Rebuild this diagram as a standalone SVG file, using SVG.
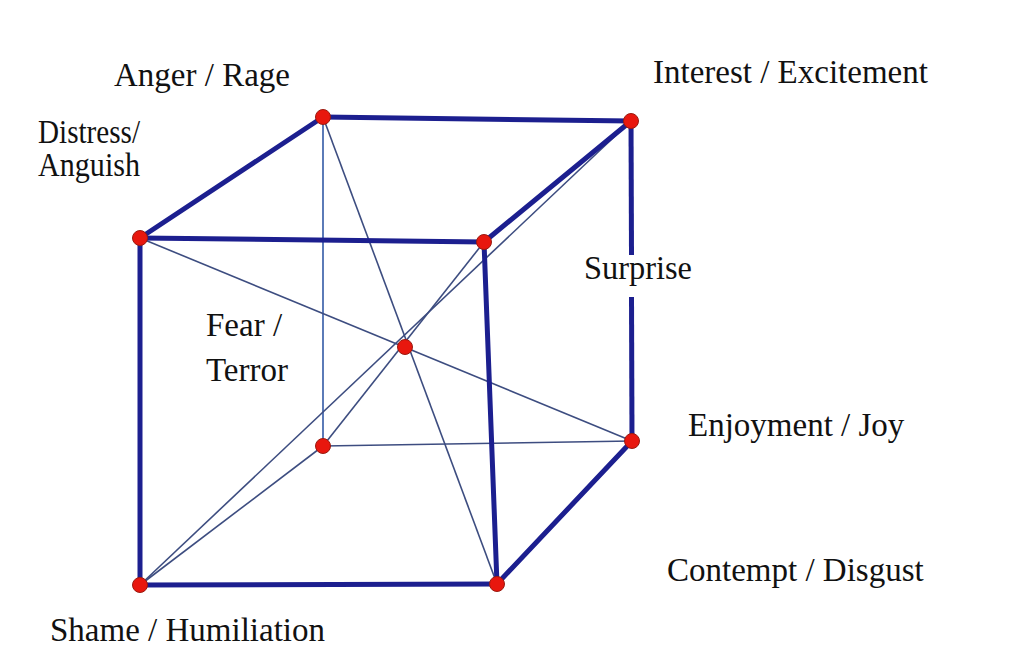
<svg xmlns="http://www.w3.org/2000/svg" width="1024" height="660" viewBox="0 0 1024 660">
<style>
.thick{stroke:#1c1f8f;stroke-width:5;stroke-linecap:round;fill:none}
.thin{stroke:#3d4d80;stroke-width:1.6;fill:none}
.light{stroke:#4a6cb0;stroke-width:1.8;fill:none}
.v{fill:#e8170e;stroke:#9a1a10;stroke-width:1}
.lbl{font-family:"Liberation Serif","Times New Roman",serif;font-size:33px;fill:#111}
</style>
<rect width="1024" height="660" fill="#ffffff"/>
<g id="connectors">
<line class="light" x1="323" y1="117" x2="323" y2="446"/>
<line class="thin" x1="323" y1="446" x2="632" y2="441"/>
<line class="thin" x1="140" y1="585" x2="323" y2="446"/>
<line class="thin" x1="140" y1="238" x2="632" y2="441"/>
<line class="thin" x1="323" y1="117" x2="497" y2="584"/>
<line class="thin" x1="140" y1="585" x2="631" y2="121"/>
<line class="thin" x1="323" y1="446" x2="484" y2="242"/>
<line class="thick" x1="323" y1="117" x2="631" y2="121"/>
<line class="thick" x1="323" y1="117" x2="140" y2="238"/>
<line class="thick" x1="631" y1="121" x2="484" y2="242"/>
<line class="thick" x1="140" y1="238" x2="484" y2="242"/>
<line class="thick" x1="140" y1="238" x2="140" y2="585"/>
<line class="thick" x1="484" y1="242" x2="497" y2="584"/>
<line class="thick" x1="140" y1="585" x2="497" y2="584"/>
<line class="thick" x1="497" y1="584" x2="632" y2="441"/>
<line class="thick" x1="631" y1="121" x2="631.5" y2="255" style="stroke-linecap:butt"/>
<line class="thick" x1="631.5" y1="297" x2="632" y2="441" style="stroke-linecap:butt"/>
</g>
<g id="v-anger"><circle class="v" cx="323" cy="117" r="7.5"/></g>
<g id="v-interest"><circle class="v" cx="631" cy="121" r="7.5"/></g>
<g id="v-distress"><circle class="v" cx="140" cy="238" r="7.5"/></g>
<g id="v-surprise"><circle class="v" cx="484" cy="242" r="7.5"/></g>
<g id="v-fear"><circle class="v" cx="323" cy="446" r="7.5"/></g>
<g id="v-enjoyment"><circle class="v" cx="632" cy="441" r="7.5"/></g>
<g id="v-shame"><circle class="v" cx="140" cy="585" r="7.5"/></g>
<g id="v-contempt"><circle class="v" cx="497" cy="584" r="7.5"/></g>
<g id="v-center"><circle class="v" cx="405" cy="347" r="7.5"/></g>
<g id="labels">
<text class="lbl" x="114" y="86">Anger / Rage</text>
<text class="lbl" x="653" y="83">Interest / Excitement</text>
<text class="lbl" x="38" y="143" textLength="102" lengthAdjust="spacingAndGlyphs">Distress/</text>
<text class="lbl" x="38" y="176" textLength="102" lengthAdjust="spacingAndGlyphs">Anguish</text>
<text class="lbl" x="584" y="279" textLength="108" lengthAdjust="spacingAndGlyphs">Surprise</text>
<text class="lbl" x="206" y="336">Fear /</text>
<text class="lbl" x="206" y="381">Terror</text>
<text class="lbl" x="688" y="436">Enjoyment / Joy</text>
<text class="lbl" x="667" y="581">Contempt / Disgust</text>
<text class="lbl" x="50" y="641">Shame / Humiliation</text>
</g>
</svg>
